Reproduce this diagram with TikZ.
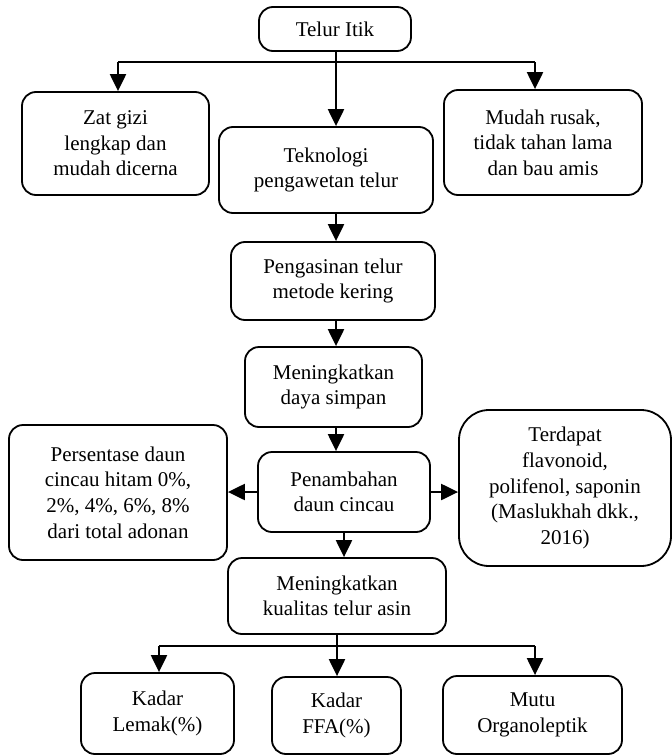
\documentclass[tikz,border=0pt]{standalone}
\usepackage{fontspec}
\setmainfont{Liberation Serif}
\usetikzlibrary{arrows.meta}

\begin{document}
\begin{tikzpicture}[x=0.5pt, y=-0.5pt, every node/.append style={text=black, font=\fontsize{10.5pt}{12.8pt}\selectfont},
	box/.style={draw, rounded corners=7pt, line width=0.9pt, align=center, inner sep=0pt},
	arr/.style={-{Triangle[length=8.5pt, width=8pt]}, line width=1.1pt}]
	\useasboundingbox (0,0) rectangle (672,755);

	\node [box, minimum width=76pt, minimum height=22pt] (telur) at (335,29) {Telur Itik};
	\node [box, minimum width=93.5pt, minimum height=51.5pt] (zat) at (115.5,143.5) {Zat gizi\\lengkap dan\\mudah dicerna};
	\node [box, minimum width=107pt, minimum height=43pt] (tek) at (326,170) {Teknologi\\pengawetan telur};
	\node [box, minimum width=99pt, minimum height=52.5pt] (mudah) at (543,142.5) {Mudah rusak,\\tidak tahan lama\\dan bau amis};
	\node [box, minimum width=102pt, minimum height=39pt] (peng) at (333,281) {Pengasinan telur\\metode kering};
	\node [box, minimum width=88.5pt, minimum height=40pt] (daya) at (333.5,387) {Meningkatkan\\daya simpan};
	\node [box, minimum width=86pt, minimum height=40pt] (pen) at (344,492) {Penambahan\\daun cincau};
	\node [box, minimum width=109pt, minimum height=67.5pt] (pers) at (118,492.5) {Persentase daun\\cincau hitam 0\%,\\2\%, 4\%, 6\%, 8\%\\dari total adonan};
	\node [box, rounded corners=15pt, minimum width=106pt, minimum height=78pt] (ter) at (565,488) {Terdapat\\flavonoid,\\polifenol, saponin\\(Maslukhah dkk.,\\2016)};
	\node [box, minimum width=109pt, minimum height=38pt] (kual) at (337,596) {Meningkatkan\\kualitas telur asin};
	\node [box, minimum width=76.5pt, minimum height=40.5pt] (lemak) at (157.5,713.5) {Kadar\\Lemak(\%)};
	\node [box, minimum width=64.5pt, minimum height=38.5pt] (ffa) at (336.5,715.5) {Kadar\\FFA(\%)};
	\node [box, minimum width=89.5pt, minimum height=39pt] (mutu) at (532.5,715) {Mutu\\Organoleptik};

	\coordinate (spine) at (336,0);
	\coordinate (l1) at (118,62);
	\coordinate (r1) at (535,62);
	\coordinate (l2) at (159,646);
	\coordinate (r2) at (535,646);

	\draw [line width=1.1pt] (l1) -- (r1);
	\draw [arr] (l1) -- (l1 |- zat.north);
	\draw [arr] (r1) -- (r1 |- mudah.north);
	\draw [arr] (telur.south -| spine) -- (tek.north -| spine);

	\draw [arr] (tek.south -| spine) -- (peng.north -| spine);
	\draw [arr] (peng.south -| spine) -- (daya.north -| spine);
	\draw [arr] (daya.south -| spine) -- (pen.north -| spine);

	\draw [arr] (pen.west) -- (pen.west -| pers.east);
	\draw [arr] (pen.east) -- (pen.east -| ter.west);
	\draw [arr] (pen.south) -- (pen.south |- kual.north);

	\draw [line width=1.1pt] (l2) -- (r2);
	\draw [arr] (kual.south) -- (kual.south |- ffa.north);
	\draw [arr] (l2) -- (l2 |- lemak.north);
	\draw [arr] (r2) -- (r2 |- mutu.north);
\end{tikzpicture}
\end{document}
